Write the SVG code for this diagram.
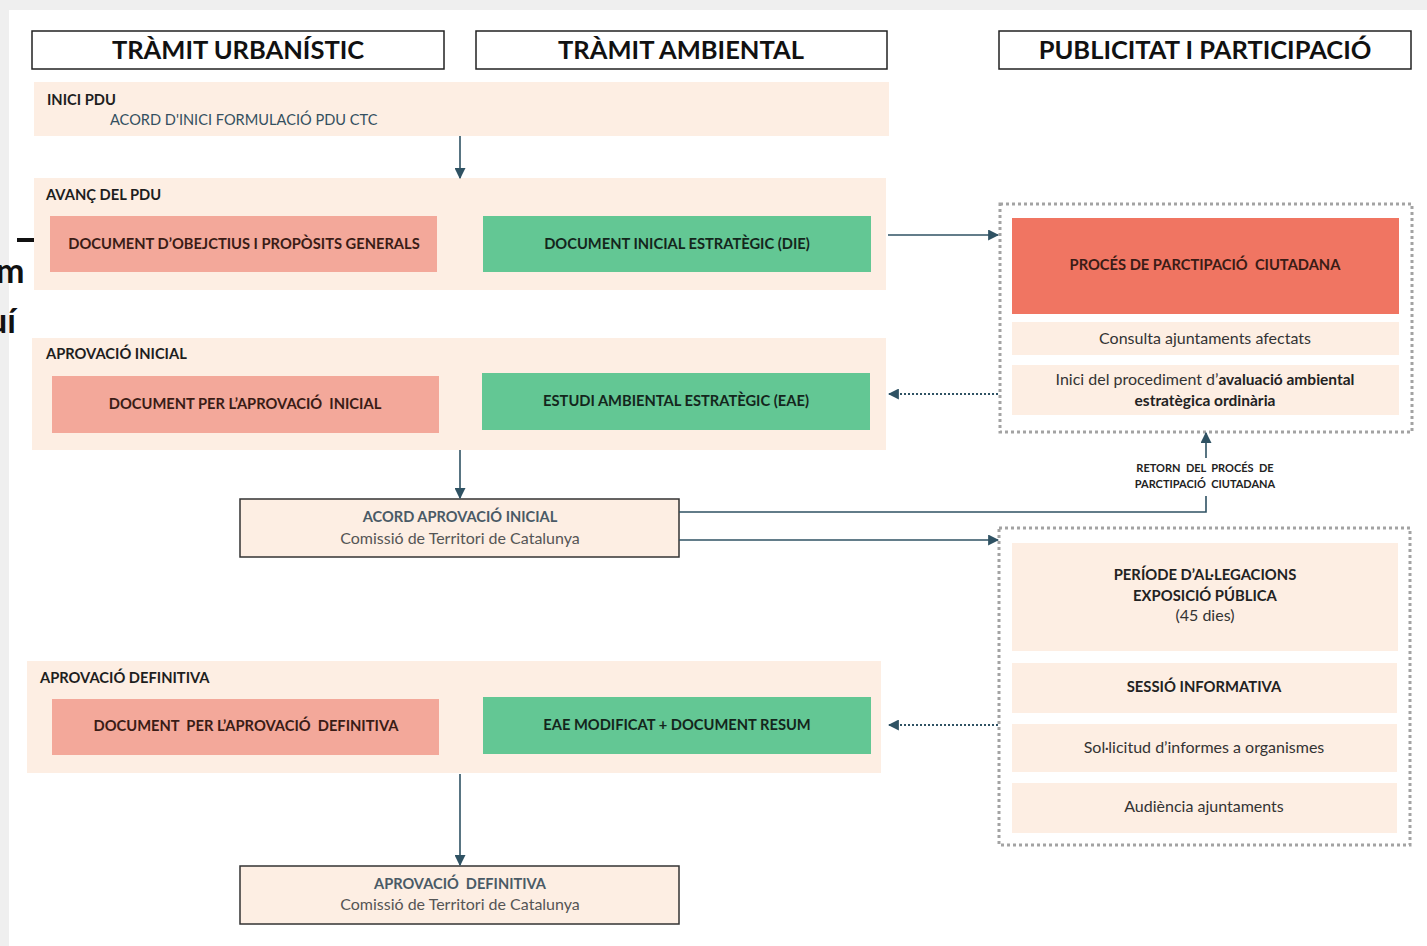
<svg xmlns="http://www.w3.org/2000/svg" width="1427" height="946" viewBox="0 0 1427 946">
<defs>
<marker id="ah" viewBox="0 0 10 10" refX="9" refY="5" markerWidth="11" markerHeight="11" markerUnits="userSpaceOnUse" orient="auto"><path d="M0,0 L10,5 L0,10 z" fill="#2f5263"/></marker>
</defs>
<style>
text{font-family:Lato,"Open Sans","Liberation Sans",sans-serif}
.hdr{fill:#fff;stroke:#222;stroke-width:1.5}
.hdrt{font-size:25.5px;font-weight:bold;fill:#111;text-anchor:middle}
.band{fill:#fdeee3}
.lab{font-size:14.7px;font-weight:bold;fill:#1e1e1e}
.pink{fill:#f3a89a}
.green{fill:#63c794}
.red{fill:#f07562}
.pt{font-size:14.7px;font-weight:bold;fill:#3a1c16;text-anchor:middle}
.gt{font-size:14.7px;font-weight:bold;fill:#14261c;text-anchor:middle}
.sub{fill:#fdeee3}
.st{font-size:16px;fill:#333;text-anchor:middle}
.sb{font-size:14.8px;font-weight:bold;fill:#222;text-anchor:middle}
.dot{fill:none;stroke:#a3a3a3;stroke-width:3;stroke-dasharray:3 3}
.acord{fill:#fdeee3;stroke:#333;stroke-width:1.5}
.at{font-size:14.6px;font-weight:bold;fill:#4a5a66;text-anchor:middle}
.ct{font-size:16px;fill:#555;text-anchor:middle}
.ln{fill:none;stroke:#2f5263;stroke-width:1.6}
.dl{fill:none;stroke:#2f5263;stroke-width:2;stroke-dasharray:2 2}
.big{font-size:34px;font-weight:bold;fill:#111}
.rt{font-size:11px;font-weight:bold;fill:#222;text-anchor:middle}
</style>
<rect width="1427" height="946" fill="#efefef"/>
<rect x="9" y="10" width="1418" height="936" fill="#fff"/>
<g id="edge-text">
<text class="big" x="-4" y="283">m</text>
<text class="big" x="-12" y="333">uí</text>
<rect x="17" y="238" width="23" height="4" fill="#111"/>
</g>
<g id="headers">
<g id="h-urb"><rect class="hdr" x="32" y="31" width="412" height="38"/><text class="hdrt" x="238" y="59">TRÀMIT URBANÍSTIC</text></g>
<g id="h-amb"><rect class="hdr" x="476" y="31" width="411" height="38"/><text class="hdrt" x="681" y="59">TRÀMIT AMBIENTAL</text></g>
<g id="h-pub"><rect class="hdr" x="999" y="31" width="412" height="38"/><text class="hdrt" x="1205" y="59">PUBLICITAT I PARTICIPACIÓ</text></g>
</g>
<g id="inici">
<rect class="band" x="34" y="82" width="855" height="54"/>
<text class="lab" x="47" y="105">INICI PDU</text>
<text x="110" y="125" style="font-size:14.6px;fill:#34505f">ACORD D'INICI FORMULACIÓ PDU CTC</text>
</g>
<g id="avanc">
<rect class="band" x="34" y="178" width="852" height="112"/>
<text class="lab" x="46" y="200">AVANÇ DEL PDU</text>
<g id="doc-obj"><rect class="pink" x="50" y="216" width="387" height="56"/><text class="pt" x="244" y="249">DOCUMENT D’OBEJCTIUS I PROPÒSITS GENERALS</text></g>
<g id="die"><rect class="green" x="483" y="216" width="388" height="56"/><text class="gt" x="677" y="249">DOCUMENT INICIAL ESTRATÈGIC (DIE)</text></g>
</g>
<g id="aprov-ini">
<rect class="band" x="32" y="338" width="854" height="112"/>
<text class="lab" x="46" y="359">APROVACIÓ INICIAL</text>
<g id="doc-ai"><rect class="pink" x="52" y="376" width="387" height="57"/><text class="pt" x="245" y="409" xml:space="preserve">DOCUMENT PER L’APROVACIÓ  INICIAL</text></g>
<g id="eae"><rect class="green" x="482" y="373" width="388" height="57"/><text class="gt" x="676" y="406">ESTUDI AMBIENTAL ESTRATÈGIC (EAE)</text></g>
</g>
<g id="acord-ai">
<rect class="acord" x="240" y="499" width="439" height="58"/>
<text class="at" x="460" y="522">ACORD APROVACIÓ INICIAL</text>
<text class="ct" x="460" y="544">Comissió de Territori de Catalunya</text>
</g>
<g id="aprov-def">
<rect class="band" x="27" y="661" width="854" height="112"/>
<text class="lab" x="40" y="683">APROVACIÓ DEFINITIVA</text>
<g id="doc-ad"><rect class="pink" x="52" y="699" width="387" height="56"/><text class="pt" x="246" y="731" xml:space="preserve">DOCUMENT  PER L’APROVACIÓ  DEFINITIVA</text></g>
<g id="eae-mod"><rect class="green" x="483" y="697" width="388" height="57"/><text class="gt" x="677" y="730">EAE MODIFICAT + DOCUMENT RESUM</text></g>
</g>
<g id="acord-ad">
<rect class="acord" x="240" y="866" width="439" height="58"/>
<text class="at" x="460" y="889" xml:space="preserve">APROVACIÓ  DEFINITIVA</text>
<text class="ct" x="460" y="910">Comissió de Territori de Catalunya</text>
</g>
<g id="particip1">
<rect class="dot" x="1000" y="204" width="412" height="228"/>
<g id="proces"><rect class="red" x="1012" y="218" width="387" height="96"/><text class="pt" x="1205" y="270" xml:space="preserve">PROCÉS DE PARCTIPACIÓ  CIUTADANA</text></g>
<g id="consulta"><rect class="sub" x="1012" y="322" width="387" height="33"/><text class="st" x="1205" y="344">Consulta ajuntaments afectats</text></g>
<g id="inici-proc"><rect class="sub" x="1012" y="365" width="387" height="50"/>
<text class="st" x="1205" y="385">Inici del procediment d’<tspan font-weight="bold" fill="#222" font-size="15.5px">avaluació ambiental</tspan></text>
<text class="sb" x="1205" y="406" style="font-size:15.5px">estratègica ordinària</text></g>
</g>
<g id="particip2">
<rect class="dot" x="999" y="528" width="411" height="317"/>
<g id="periode"><rect class="sub" x="1012" y="543" width="386" height="108"/>
<text class="sb" x="1205" y="580">PERÍODE D’AL·LEGACIONS</text>
<text class="sb" x="1205" y="601">EXPOSICIÓ PÚBLICA</text>
<text class="st" x="1205" y="621">(45 dies)</text></g>
<g id="sessio"><rect class="sub" x="1012" y="663" width="385" height="50"/><text class="sb" x="1204" y="692">SESSIÓ INFORMATIVA</text></g>
<g id="sol"><rect class="sub" x="1012" y="724" width="385" height="48"/><text class="st" x="1204" y="753">Sol·licitud d’informes a organismes</text></g>
<g id="aud"><rect class="sub" x="1012" y="783" width="385" height="50"/><text class="st" x="1204" y="812">Audiència ajuntaments</text></g>
</g>
<g id="connectors">
<line class="ln" x1="460" y1="136" x2="460" y2="178" marker-end="url(#ah)"/>
<line class="ln" x1="888" y1="235" x2="998" y2="235" marker-end="url(#ah)"/>
<line class="dl" x1="998" y1="394" x2="889" y2="394" marker-end="url(#ah)"/>
<line class="ln" x1="460" y1="450" x2="460" y2="498" marker-end="url(#ah)"/>
<polyline class="ln" points="679,512 1206,512 1206,496"/>
<line class="ln" x1="1206" y1="458" x2="1206" y2="433" marker-end="url(#ah)"/>
<text class="rt" x="1205" y="472" xml:space="preserve">RETORN  DEL  PROCÉS  DE</text>
<text class="rt" x="1205" y="488" xml:space="preserve">PARCTIPACIÓ  CIUTADANA</text>
<line class="ln" x1="679" y1="540" x2="998" y2="540" marker-end="url(#ah)"/>
<line class="dl" x1="998" y1="725" x2="889" y2="725" marker-end="url(#ah)"/>
<line class="ln" x1="460" y1="774" x2="460" y2="865" marker-end="url(#ah)"/>
</g>
</svg>
